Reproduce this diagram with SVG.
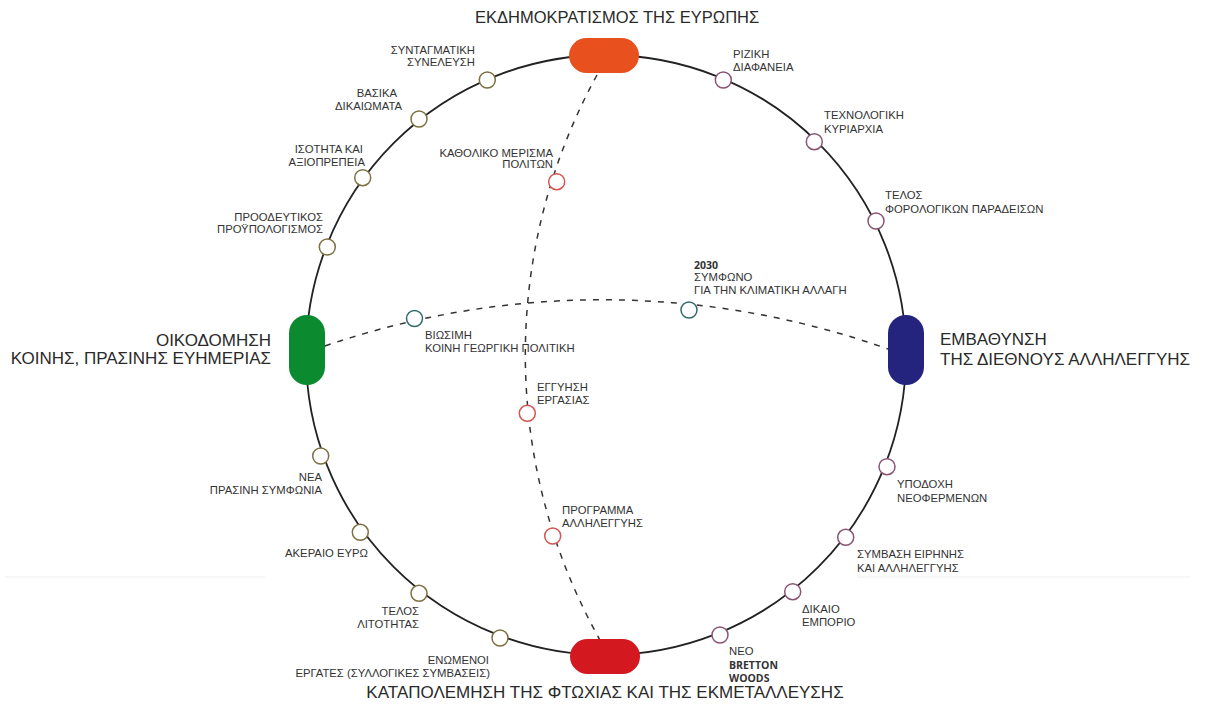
<svg xmlns="http://www.w3.org/2000/svg" width="1205" height="707" viewBox="0 0 1205 707">
<style>
text{font-family:"Liberation Sans",Arial,sans-serif;fill:#333;}
.s{font-size:11.3px;}
.b{font-family:"Open Sans","Liberation Sans",sans-serif;font-size:10.5px;font-weight:700;}
.L{font-size:17px;fill:#2a2a2a;}
.e{text-anchor:end;}
.ring{fill:none;stroke:#222;stroke-width:1.8;}
.dash{fill:none;stroke:#333;stroke-width:1.5;stroke-dasharray:6 7;}
.n{fill:#fff;stroke-width:1.5;}
.ol{stroke:#7d7043;}
.pu{stroke:#8a5472;}
.rd{stroke:#d4544f;}
.te{stroke:#2f6b68;}
.faint{stroke:#efefef;stroke-width:1;}
</style>
<rect width="1205" height="707" fill="#fff"/>
<line class="faint" x1="5" y1="577" x2="265" y2="577"/>
<line class="faint" x1="857" y1="577" x2="1190" y2="577"/>
<g id="connectors">
<circle class="ring" cx="606" cy="355" r="300"/>
<path class="dash" d="M597,75 A582,582 0 0 0 600,640"/>
<path class="dash" d="M325,346 A855,855 0 0 1 888,349"/>
</g>
<g id="hub-top"><rect x="569" y="38" width="70" height="35" rx="17.5" fill="#e8501e"/><text class="L" x="475" y="23" style="font-size:16.5px">ΕΚΔΗΜΟΚΡΑΤΙΣΜΟΣ ΤΗΣ ΕΥΡΩΠΗΣ</text></g>
<g id="hub-left"><rect x="289" y="315" width="36" height="70" rx="18" fill="#0b8a2f"/><text class="L e" x="271" y="345.5">ΟΙΚΟΔΟΜΗΣΗ</text><text class="L e" x="271" y="364">ΚΟΙΝΗΣ, ΠΡΑΣΙΝΗΣ ΕΥΗΜΕΡΙΑΣ</text></g>
<g id="hub-right"><rect x="888" y="315" width="36" height="70" rx="18" fill="#24247e"/><text class="L" x="940" y="345">ΕΜΒΑΘΥΝΣΗ</text><text class="L" x="940" y="365">ΤΗΣ ΔΙΕΘΝΟΥΣ ΑΛΛΗΛΕΓΓΥΗΣ</text></g>
<g id="hub-bottom"><rect x="570" y="639" width="70" height="35" rx="17.5" fill="#d3181f"/><text class="L" x="605" y="698" text-anchor="middle">ΚΑΤΑΠΟΛΕΜΗΣΗ ΤΗΣ ΦΤΩΧΙΑΣ ΚΑΙ ΤΗΣ ΕΚΜΕΤΑΛΛΕΥΣΗΣ</text></g>

<g id="n-syntagmatiki"><circle class="n ol" cx="487.3" cy="80" r="8"/><text class="s e" x="475" y="54">ΣΥΝΤΑΓΜΑΤΙΚΗ</text><text class="s e" x="475" y="66">ΣΥΝΕΛΕΥΣΗ</text></g>
<g id="n-vasika"><circle class="n ol" cx="419" cy="119" r="8"/><text class="s e" x="397" y="97">ΒΑΣΙΚΑ</text><text class="s e" x="402" y="110">ΔΙΚΑΙΩΜΑΤΑ</text></g>
<g id="n-isotita"><circle class="n ol" cx="362.7" cy="177.7" r="8"/><text class="s e" x="363" y="153">ΙΣΟΤΗΤΑ ΚΑΙ</text><text class="s e" x="365" y="166">ΑΞΙΟΠΡΕΠΕΙΑ</text></g>
<g id="n-proodeftikos"><circle class="n ol" cx="327.3" cy="247" r="8"/><text class="s e" x="323" y="221">ΠΡΟΟΔΕΥΤΙΚΟΣ</text><text class="s e" x="323" y="233">ΠΡΟΫΠΟΛΟΓΙΣΜΟΣ</text></g>

<g id="n-nea"><circle class="n ol" cx="320.7" cy="456" r="8"/><text class="s e" x="322" y="481">ΝΕΑ</text><text class="s e" x="322" y="494">ΠΡΑΣΙΝΗ ΣΥΜΦΩΝΙΑ</text></g>
<g id="n-akeraio"><circle class="n ol" cx="360.3" cy="532.3" r="8"/><text class="s e" x="368" y="557">ΑΚΕΡΑΙΟ ΕΥΡΩ</text></g>
<g id="n-litotita"><circle class="n ol" cx="419" cy="593.3" r="8"/><text class="s e" x="419" y="615">ΤΕΛΟΣ</text><text class="s e" x="419" y="628">ΛΙΤΟΤΗΤΑΣ</text></g>
<g id="n-enomenoi"><circle class="n ol" cx="500" cy="638" r="8"/><text class="s e" x="489" y="664">ΕΝΩΜΕΝΟΙ</text><text class="s e" x="490" y="677">ΕΡΓΑΤΕΣ (ΣΥΛΛΟΓΙΚΕΣ ΣΥΜΒΑΣΕΙΣ)</text></g>

<g id="n-riziki"><circle class="n pu" cx="723.3" cy="80" r="8"/><text class="s" x="733" y="58">ΡΙΖΙΚΗ</text><text class="s" x="733" y="71">ΔΙΑΦΑΝΕΙΑ</text></g>
<g id="n-texnologiki"><circle class="n pu" cx="814.3" cy="141.7" r="8"/><text class="s" x="824" y="119">ΤΕΧΝΟΛΟΓΙΚΗ</text><text class="s" x="824" y="132.5">ΚΥΡΙΑΡΧΙΑ</text></g>
<g id="n-forologikoi"><circle class="n pu" cx="876" cy="221" r="8"/><text class="s" x="885" y="199">ΤΕΛΟΣ</text><text class="s" x="885" y="212.5">ΦΟΡΟΛΟΓΙΚΩΝ ΠΑΡΑΔΕΙΣΩΝ</text></g>

<g id="n-ypodoxi"><circle class="n pu" cx="887" cy="466.7" r="8"/><text class="s" x="897" y="488">ΥΠΟΔΟΧΗ</text><text class="s" x="897" y="502">ΝΕΟΦΕΡΜΕΝΩΝ</text></g>
<g id="n-symvasi"><circle class="n pu" cx="845.7" cy="537.3" r="8"/><text class="s" x="857" y="558">ΣΥΜΒΑΣΗ ΕΙΡΗΝΗΣ</text><text class="s" x="857" y="572">ΚΑΙ ΑΛΛΗΛΕΓΓΥΗΣ</text></g>
<g id="n-dikaio"><circle class="n pu" cx="792.7" cy="591.7" r="8"/><text class="s" x="802" y="613">ΔΙΚΑΙΟ</text><text class="s" x="802" y="626">ΕΜΠΟΡΙΟ</text></g>
<g id="n-bretton"><circle class="n pu" cx="720" cy="635" r="8"/><text class="s" x="729" y="655">ΝΕΟ</text><text class="b" x="729" y="669">BRETTON</text><text class="b" x="729" y="682">WOODS</text></g>

<g id="n-kathoiko"><circle class="n rd" cx="556.7" cy="181.7" r="8"/><text class="s e" x="553" y="156.5">ΚΑΘΟΛΙΚΟ ΜΕΡΙΣΜΑ</text><text class="s e" x="553" y="168">ΠΟΛΙΤΩΝ</text></g>
<g id="n-eggyisi"><circle class="n rd" cx="527.3" cy="413.3" r="8"/><text class="s" x="537" y="391">ΕΓΓΥΗΣΗ</text><text class="s" x="537" y="404">ΕΡΓΑΣΙΑΣ</text></g>
<g id="n-programma"><circle class="n rd" cx="552.7" cy="536" r="8"/><text class="s" x="562" y="514">ΠΡΟΓΡΑΜΜΑ</text><text class="s" x="562" y="527">ΑΛΛΗΛΕΓΓΥΗΣ</text></g>

<g id="n-viosimi"><circle class="n te" cx="414.5" cy="318.5" r="8"/><text class="s" x="425" y="339">ΒΙΩΣΙΜΗ</text><text class="s" x="425" y="352">ΚΟΙΝΗ ΓΕΩΡΓΙΚΗ ΠΟΛΙΤΙΚΗ</text></g>
<g id="n-2030"><circle class="n te" cx="689" cy="310" r="8"/><text class="b" x="694" y="269">2030</text><text class="s" x="694" y="281">ΣΥΜΦΩΝΟ</text><text class="s" x="694" y="294">ΓΙΑ ΤΗΝ ΚΛΙΜΑΤΙΚΗ ΑΛΛΑΓΗ</text></g>
</svg>
